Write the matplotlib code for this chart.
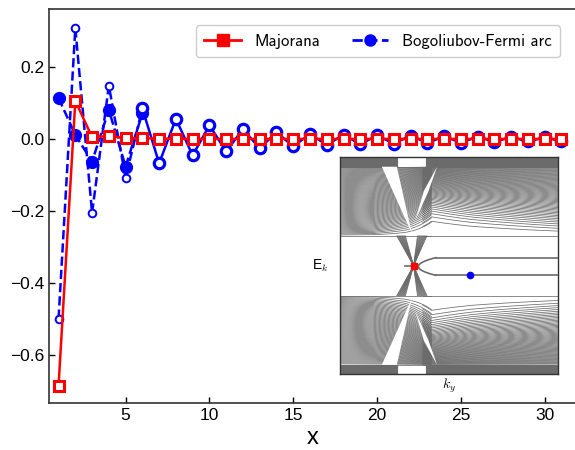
import numpy as np
import matplotlib
matplotlib.use('Agg')
import matplotlib.pyplot as plt
from matplotlib.lines import Line2D
from matplotlib.patches import Polygon

plt.rcParams['font.family'] = ['Liberation Sans', 'DejaVu Sans']
plt.rcParams['mathtext.fontset'] = 'cm'

# ---------------- main data ----------------
x_maj = list(range(1, 32))
majorana = [-0.687, 0.107, 0.006, 0.009, 0.003, 0.003, 0.002, 0.001, 0.001, 0.001,
            0.001, 0.001, 0.001, 0.001, 0.001, 0.001, 0.001, 0.001, 0.001, 0.001,
            0.001, 0.001, 0.001, 0.001, 0.001, 0.001, 0.001, 0.001, 0.001, 0.001, 0.001]

x_bf_head = [1, 2, 3, 4, 5, 6]
bf_filled = [0.115, 0.012, -0.062, 0.082, -0.076, 0.072]
bf_open_small = [-0.50, 0.31, -0.205, 0.149, -0.107, 0.086]

x_bf_tail = list(range(6, 32))
bf_tail = [0.086, -0.067, 0.057, -0.045, 0.039, -0.034, 0.028, -0.025, 0.020, -0.020,
           0.015, -0.016, 0.013, -0.014, 0.011, -0.012, 0.010, -0.010, 0.008, -0.009,
           0.007, -0.007, 0.006, -0.006, 0.005, -0.005]

xticks = [5, 10, 15, 20, 25, 30]
yticks = [-0.6, -0.4, -0.2, 0.0, 0.2]

# ---------------- inset data (schematic band structure) ----------------
gap_edge = 0.275          # edge of the bulk gap
band_top = 0.913          # top of the fanning continuum
strip_top = 1.0           # top of the dense outer strip
n_bands_left = 70
n_bands_right = 60
split_k = 0.40
p_knots_k = [0.0, 0.15, 0.30, 0.42, 0.60, 1.00]
p_knots_v = [1.00, 0.95, 0.70, 0.38, 0.48, 0.65]
strip_gap_k = [0.261, 0.392]
wedge_k = [0.192, 0.261, 0.330]
wedge_e = [0.913, 0.913, 0.300]
sliver_k = [0.446, 0.405, 0.346, 0.385]
sliver_e = [0.913, 0.680, 0.420, 0.690]
x_arm_left_k = [0.261, 0.300]
x_arm_right_k = [0.356, 0.399]
node_k = 0.338
arc_tip_k = 0.36
arc_upper_e = 0.075
arc_lower_e = -0.088
majorana_point = (0.338, 0.0)
bf_point = (0.599, -0.088)

# ---------------- figure ----------------
fig = plt.figure(figsize=(5.75, 4.5), dpi=100)
ax = fig.add_axes([49 / 575, 47.3 / 450, 528 / 575, 393.7 / 450])

ax.plot(x_bf_head, bf_open_small, ls='--', color='blue', lw=1.8, marker='o', ms=5.5,
        mfc='white', mec='blue', mew=1.4, zorder=3)
ax.plot(x_bf_head, bf_filled, ls='--', color='blue', lw=1.8, marker='o', ms=8.5,
        mfc='blue', mec='blue', zorder=3)
ax.plot(x_bf_tail, bf_tail, ls='-', color='blue', lw=1.8, marker='o', ms=7.5,
        mfc='white', mec='blue', mew=2.3, zorder=3)
ax.plot(x_maj, majorana, ls='-', color='red', lw=1.8, marker='s', ms=7,
        mfc='white', mec='red', mew=2.2, zorder=4)

ax.set_xlim(0.43, 31.93)
ax.set_ylim(-0.734, 0.363)
ax.set_xticks(xticks)
ax.set_yticks(yticks)
ax.tick_params(direction='in', length=4, width=1, labelsize=12.5, top=False, right=False)
ax.set_xlabel('x', fontsize=17, labelpad=3)
for s in ax.spines.values():
    s.set_color('#333333')
    s.set_linewidth(1.2)

handles = [Line2D([], [], color='red', lw=2, marker='s', ms=8, mfc='red'),
           Line2D([], [], color='blue', lw=2, ls='--', marker='o', ms=8, mfc='blue')]
leg = ax.legend(handles, ['Majorana', 'Bogoliubov-Fermi arc'], ncol=2,
                loc='upper right', bbox_to_anchor=(568 / 575, 1 - 17 / 450),
                bbox_transform=fig.transFigure,
                prop={'family': ['cmss10', 'DejaVu Sans'], 'size': 12},
                handlelength=2.2, columnspacing=1.9, borderpad=0.5, framealpha=1)
leg.get_frame().set_edgecolor('#cccccc')

# ---------------- inset ----------------
axin = fig.add_axes([340 / 575, (450 - 374.3) / 450, 217.7 / 575, 217 / 450])
gray = '0.42'
k_left = np.linspace(0, split_k + 0.02, 300)
k_right = np.linspace(split_k - 0.02, 1, 300)
for kk, nb in ((k_left, n_bands_left), (k_right, n_bands_right)):
    pk = np.interp(kk, p_knots_k, p_knots_v)
    for u in np.linspace(0, 1, nb):
        e = gap_edge + (band_top - gap_edge) * u ** pk
        axin.plot(kk, e, color=gray, lw=0.55, zorder=2)
        axin.plot(kk, -e, color=gray, lw=0.55, zorder=2)
k = np.linspace(0, 1, 500)
for lev in np.linspace(band_top, strip_top, 12):
    e = np.where((k > strip_gap_k[0]) & (k < strip_gap_k[1]), np.nan, lev)
    axin.plot(k, e, color=gray, lw=0.8, zorder=2)
    axin.plot(k, -e, color=gray, lw=0.8, zorder=2)
for sgn in (1, -1):
    axin.add_patch(Polygon(list(zip(wedge_k, [sgn * v for v in wedge_e])),
                           closed=True, fc='white', ec='none', zorder=3))
    axin.add_patch(Polygon(list(zip(sliver_k, [sgn * v for v in sliver_e])),
                           closed=True, fc='white', ec='none', zorder=3))
    for ka in np.linspace(x_arm_left_k[0], x_arm_left_k[1], 12):
        axin.plot([ka, node_k], [sgn * gap_edge, 0], color=gray, lw=0.6, zorder=4)
    for kb in np.linspace(x_arm_right_k[0], x_arm_right_k[1], 12):
        axin.plot([kb, node_k], [sgn * gap_edge, 0], color=gray, lw=0.6, zorder=4)
# in-gap arc
ee = np.linspace(arc_lower_e, arc_upper_e, 200)
ka = arc_tip_k + 12 * (ee - (arc_upper_e + arc_lower_e) / 2) ** 2
axin.plot(ka, ee, color=gray, lw=1.2, zorder=4)
axin.plot([ka.max(), 1], [arc_upper_e, arc_upper_e], color=gray, lw=1.2, zorder=4)
axin.plot([ka.max(), 1], [arc_lower_e, arc_lower_e], color=gray, lw=1.2, zorder=4)
axin.plot([0.30, arc_tip_k], [0, 0], color=gray, lw=1.2, zorder=4)
axin.plot(*majorana_point, marker='s', color='red', ms=5, zorder=6)
axin.plot(*bf_point, marker='o', color='blue', ms=4.5, zorder=6)
axin.set_xlim(0, 1)
axin.set_ylim(-1, 1)
axin.set_xticks([])
axin.set_yticks([])
axin.set_xlabel('$k_y$', fontsize=10, labelpad=2)
axin.set_ylabel('E$_k$', fontsize=10, rotation=0, labelpad=14, va='center')
for s in axin.spines.values():
    s.set_color('#333333')
    s.set_linewidth(1.0)

fig.savefig('out.png', dpi=100)
